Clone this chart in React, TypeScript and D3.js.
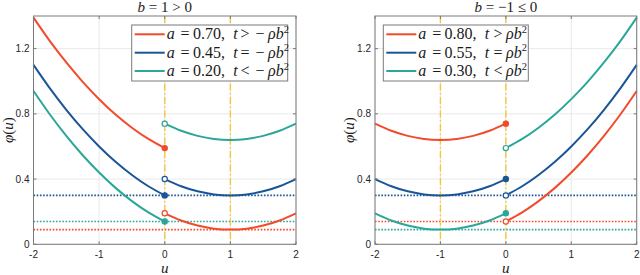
import * as d3 from "d3";

// sampled u values for each branch
const U_NEG = [-2, -1.75, -1.5, -1.25, -1, -0.75, -0.5, -0.25, 0];
const U_POS = [0, 0.25, 0.5, 0.75, 1, 1.25, 1.5, 1.75, 2];

const X_TICKS = [-2, -1, 0, 1, 2];
const Y_TICKS = [0, 0.4, 0.8, 1.2];
const Y_TICK_LABELS = ["0", "0.4", "0.8", "1.2"];

const COLORS = ["#f24b2c", "#1a5598", "#2ba69a"];

// left panel, b = 1 > 0
const LEFT_A = ["0.70", "0.45", "0.20"];
const LEFT_REL = [">", "=", "<"];
const LEFT_NEG = [
  [1.39, 1.246, 1.115, 0.996, 0.89, 0.796, 0.715, 0.646, 0.59],
  [1.1, 0.956, 0.825, 0.706, 0.6, 0.506, 0.425, 0.356, 0.3],
  [0.94, 0.796, 0.665, 0.546, 0.44, 0.346, 0.265, 0.196, 0.14],
];
const LEFT_POS = [
  [0.19, 0.146, 0.115, 0.096, 0.09, 0.096, 0.115, 0.146, 0.19],
  [0.4, 0.356, 0.325, 0.306, 0.3, 0.306, 0.325, 0.356, 0.4],
  [0.74, 0.696, 0.665, 0.646, 0.64, 0.646, 0.665, 0.696, 0.74],
];
const LEFT_FLOOR = [0.09, 0.3, 0.14];
const LEFT_VLINES = [0, 1];

// right panel, b = -1 <= 0
const RIGHT_A = ["0.80", "0.55", "0.30"];
const RIGHT_REL = [">", "=", "<"];
const RIGHT_NEG = [
  [0.74, 0.696, 0.665, 0.646, 0.64, 0.646, 0.665, 0.696, 0.74],
  [0.4, 0.356, 0.325, 0.306, 0.3, 0.306, 0.325, 0.356, 0.4],
  [0.19, 0.146, 0.115, 0.096, 0.09, 0.096, 0.115, 0.146, 0.19],
];
const RIGHT_POS = [
  [0.14, 0.196, 0.265, 0.346, 0.44, 0.546, 0.665, 0.796, 0.94],
  [0.3, 0.356, 0.425, 0.506, 0.6, 0.706, 0.825, 0.956, 1.1],
  [0.59, 0.646, 0.715, 0.796, 0.89, 0.996, 1.115, 1.246, 1.39],
];
const RIGHT_FLOOR = [0.14, 0.3, 0.09];
const RIGHT_VLINES = [-1, 0];

const YELLOW = "#f6c63a";
const MATH = { fontFamily: "'Liberation Serif', 'Times New Roman', serif" };
const SANS = { fontFamily: "'Liberation Sans', Arial, sans-serif" };

const TOP = 16;
const BOTTOM = 244.3;

interface PanelProps {
  x0: number;
  x1: number;
  title: React.ReactNode;
  aVals: string[];
  rels: string[];
  neg: number[][];
  pos: number[][];
  floors: number[];
  vlines: number[];
  legendX: number;
  negRho: boolean;
}

function Panel(p: PanelProps) {
  const x = d3.scaleLinear().domain([-2, 2]).range([p.x0, p.x1]);
  const y = d3.scaleLinear().domain([0, 1.4]).range([BOTTOM, TOP]);
  const line = d3
    .line<[number, number]>()
    .x((d) => x(d[0]))
    .y((d) => y(d[1]))
    .curve(d3.curveNatural);

  const legW = p.negRho ? 156 : 145;
  const rowY = [34.3, 52.7, 71];
  const s = p.legendX + 35;
  const rhoX = p.negRho ? 101.3 : 87.7;

  return (
    <g>
      {/* grid */}
      {X_TICKS.map((t) => (
        <line key={"gx" + t} x1={x(t)} x2={x(t)} y1={TOP} y2={BOTTOM} stroke="#e3e3e3" strokeWidth={0.8} />
      ))}
      {Y_TICKS.map((t) => (
        <line key={"gy" + t} x1={p.x0} x2={p.x1} y1={y(t)} y2={y(t)} stroke="#e3e3e3" strokeWidth={0.8} />
      ))}

      {/* dotted minimum levels */}
      {p.floors.map((f, i) => (
        <line
          key={"f" + i}
          x1={p.x0}
          x2={p.x1}
          y1={y(f)}
          y2={y(f)}
          stroke={COLORS[i]}
          strokeWidth={1.6}
          strokeDasharray="1.6 1.6"
        />
      ))}

      {/* vertical dash-dot lines */}
      {p.vlines.map((v) => (
        <line
          key={"v" + v}
          x1={x(v)}
          x2={x(v)}
          y1={TOP}
          y2={BOTTOM}
          stroke={YELLOW}
          strokeWidth={1.4}
          strokeDasharray="7 2.5 1.5 2.5"
        />
      ))}

      {/* curves */}
      {COLORS.map((c, i) => (
        <g key={"c" + i}>
          <path
            d={line(U_NEG.map((u, k) => [u, p.neg[i][k]] as [number, number])) ?? ""}
            fill="none"
            stroke={c}
            strokeWidth={2}
          />
          <path
            d={line(U_POS.map((u, k) => [u, p.pos[i][k]] as [number, number])) ?? ""}
            fill="none"
            stroke={c}
            strokeWidth={2}
          />
          <circle cx={x(0)} cy={y(p.neg[i][U_NEG.length - 1])} r={2.6} fill={c} stroke={c} strokeWidth={1.2} />
          <circle cx={x(0)} cy={y(p.pos[i][0])} r={2.6} fill="#fff" stroke={c} strokeWidth={1.2} />
        </g>
      ))}

      {/* axes box */}
      <rect x={p.x0} y={TOP} width={p.x1 - p.x0} height={BOTTOM - TOP} fill="none" stroke="#7a7a7a" strokeWidth={1} />
      {X_TICKS.map((t) => (
        <g key={"tx" + t}>
          <line x1={x(t)} x2={x(t)} y1={BOTTOM} y2={BOTTOM - 3} stroke="#7a7a7a" />
          <line x1={x(t)} x2={x(t)} y1={TOP} y2={TOP + 3} stroke="#7a7a7a" />
          <text x={x(t)} y={BOTTOM + 14} textAnchor="middle" style={SANS} fontSize={10} fill="#262626">
            {t < 0 ? "-" + Math.abs(t) : String(t)}
          </text>
        </g>
      ))}
      {Y_TICKS.map((t, i) => (
        <g key={"ty" + t}>
          <line x1={p.x0} x2={p.x0 + 3} y1={y(t)} y2={y(t)} stroke="#7a7a7a" />
          <line x1={p.x1} x2={p.x1 - 3} y1={y(t)} y2={y(t)} stroke="#7a7a7a" />
          <text x={p.x0 - 4} y={y(t) + 3.5} textAnchor="end" style={SANS} fontSize={10} fill="#262626">
            {Y_TICK_LABELS[i]}
          </text>
        </g>
      ))}

      {/* labels */}
      <text x={(p.x0 + p.x1) / 2} y={12} textAnchor="middle" style={MATH} fontSize={15} fill="#1a1a1a">
        {p.title}
      </text>
      <text x={(p.x0 + p.x1) / 2} y={272.5} textAnchor="middle" style={MATH} fontSize={15} fontStyle="italic" fill="#1a1a1a">
        u
      </text>
      <text
        transform={`translate(${p.x0 - 21},${(TOP + BOTTOM) / 2}) rotate(-90)`}
        textAnchor="middle"
        style={MATH}
        fontSize={15}
        fill="#1a1a1a"
      >
        <tspan fontStyle="italic">φ</tspan>(<tspan fontStyle="italic">u</tspan>)
      </text>

      {/* legend */}
      <rect x={p.legendX} y={25} width={legW} height={56} fill="#fff" stroke="#7a7a7a" strokeWidth={1} />
      {COLORS.map((c, i) => {
        const ty = rowY[i] + 5;
        return (
          <g key={"l" + i} style={MATH} fontSize={16} fill="#1a1a1a">
            <line x1={p.legendX + 3} x2={p.legendX + 33} y1={rowY[i]} y2={rowY[i]} stroke={c} strokeWidth={2} />
            <text x={s} y={ty} fontStyle="italic">a</text>
            <text x={s + 18.4} y={ty} textAnchor="middle">=</text>
            <text x={s + 26.3} y={ty}>{p.aVals[i] + ","}</text>
            <text x={s + 66.5} y={ty} fontStyle="italic">t</text>
            <text x={s + (p.negRho ? 78.3 : 79.7)} y={ty} textAnchor="middle">{p.rels[i]}</text>
            {p.negRho && (
              <text x={s + 93.2} y={ty} textAnchor="middle">−</text>
            )}
            <text x={s + rhoX} y={ty}>
              <tspan fontStyle="italic">ρb</tspan>
              <tspan fontSize={10.5} dy={-6.5}>2</tspan>
            </text>
          </g>
        );
      })}
    </g>
  );
}

export default function App() {
  return (
    <svg
      width={640}
      height={275}
      style={{ position: "absolute", left: 0, top: 0, background: "#fff" }}
    >
      <Panel
        x0={33.5}
        x1={296}
        title={
          <>
            <tspan fontStyle="italic">b</tspan> = 1 &gt; 0
          </>
        }
        aVals={LEFT_A}
        rels={LEFT_REL}
        neg={LEFT_NEG}
        pos={LEFT_POS}
        floors={LEFT_FLOOR}
        vlines={LEFT_VLINES}
        legendX={131.7}
        negRho={true}
      />
      <Panel
        x0={375}
        x1={636.7}
        title={
          <>
            <tspan fontStyle="italic">b</tspan> = −1 ≤ 0
          </>
        }
        aVals={RIGHT_A}
        rels={RIGHT_REL}
        neg={RIGHT_NEG}
        pos={RIGHT_POS}
        floors={RIGHT_FLOOR}
        vlines={RIGHT_VLINES}
        legendX={383.3}
        negRho={false}
      />
    </svg>
  );
}
